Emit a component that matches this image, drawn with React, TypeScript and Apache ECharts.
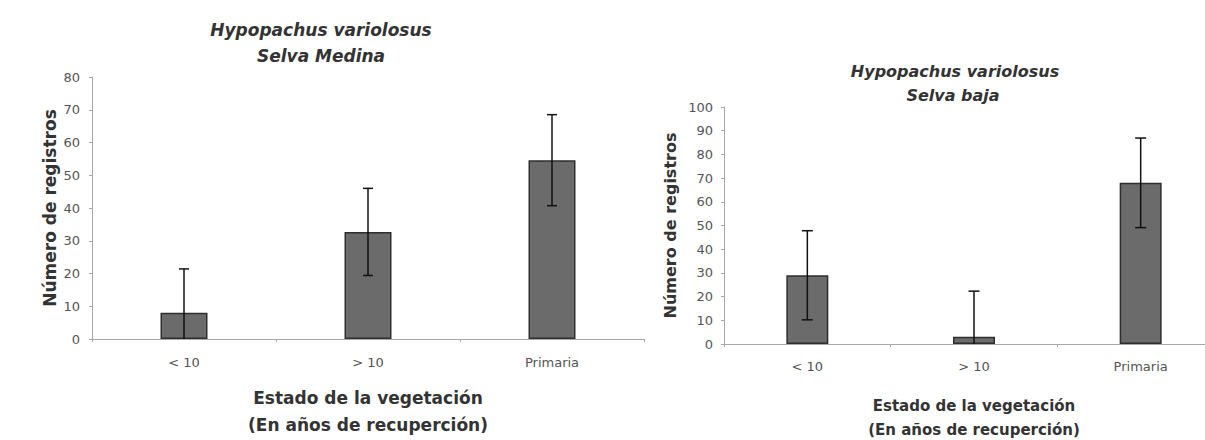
import React, { useEffect, useRef } from "react";
import * as echarts from "echarts";

const categories = ["< 10", "> 10", "Primaria"];

const medinaValues = [8, 32.7, 54.6];
const medinaErrors = [13.4, 13.3, 13.9];

const bajaValues = [29, 3.1, 68];
const bajaErrors = [18.8, 19.2, 18.9];

const titleSpecies = "Hypopachus variolosus";
const titleMedina = "Selva Medina";
const titleBaja = "Selva baja";
const yName = "Número de registros";
const xName = "Estado de la vegetación\n(En años de recuperción)";

const errData = (vals: number[], errs: number[]) =>
  vals.map((v, i) => [i, Math.max(0, v - errs[i]), v + errs[i]]);

const makeErrRender = (cap: number) => (params: any, api: any) => {
  const i = api.value(0);
  const lo = api.value(1);
  const hi = api.value(2);
  const top = api.coord([i, hi]);
  const bot = api.coord([i, lo]);
  const style = { stroke: "#111", lineWidth: 1.5 };
  const children: any[] = [
    { type: "line", shape: { x1: top[0], y1: top[1], x2: bot[0], y2: bot[1] }, style },
    { type: "line", shape: { x1: top[0] - cap / 2, y1: top[1], x2: top[0] + cap / 2, y2: top[1] }, style },
  ];
  if (lo > 0) {
    children.push({
      type: "line",
      shape: { x1: bot[0] - cap / 2, y1: bot[1], x2: bot[0] + cap / 2, y2: bot[1] },
      style,
    });
  }
  return { type: "group", children };
};

const FONT = "DejaVu Sans";
const axisGray = "#a8a8a8";
const labelGray = "#555";
const textDark = "#333";

export default function App() {
  const ref = useRef<HTMLDivElement>(null);
  useEffect(() => {
    if (!ref.current) return;
    const chart = echarts.init(ref.current, undefined, { renderer: "svg" });
    const xAxisBase = (gridIndex: number, nameSize: number, nameGap: number, lineH: number, labelMargin: number) => ({
      type: "category",
      gridIndex,
      data: categories,
      axisLine: { lineStyle: { color: axisGray, width: 1 } },
      axisTick: { show: true, length: 3, lineStyle: { color: axisGray } },
      axisLabel: { color: labelGray, fontSize: 13, fontFamily: FONT, margin: labelMargin },
      name: xName,
      nameLocation: "middle",
      nameGap,
      nameTextStyle: {
        color: textDark,
        fontWeight: "bold",
        fontSize: nameSize,
        fontFamily: FONT,
        lineHeight: lineH,
      },
    });
    const yAxisBase = (gridIndex: number, max: number, nameSize: number, nameGap: number, labelMargin: number) => ({
      type: "value",
      gridIndex,
      min: 0,
      max,
      interval: 10,
      splitLine: { show: false },
      axisLine: { show: true, lineStyle: { color: axisGray, width: 1 } },
      axisTick: { show: true, length: 3, lineStyle: { color: axisGray } },
      axisLabel: { color: labelGray, fontSize: 13, fontFamily: FONT, margin: labelMargin },
      name: yName,
      nameLocation: "middle",
      nameRotate: 90,
      nameGap,
      nameTextStyle: { color: textDark, fontWeight: "bold", fontSize: nameSize, fontFamily: FONT },
    });
    const titleText = (x: number, y: number, text: string, size: number) => ({
      type: "text",
      x,
      y,
      style: {
        text,
        fill: textDark,
        font: `italic bold ${size}px "${FONT}"`,
        textAlign: "center",
        textVerticalAlign: "middle",
      },
    });
    chart.setOption({
      animation: false,
      backgroundColor: "#fff",
      grid: [
        { left: 92, top: 77, width: 552, height: 262, outerBoundsMode: "none", containLabel: false },
        { left: 724, top: 107, width: 500, height: 237, outerBoundsMode: "none", containLabel: false },
      ],
      xAxis: [xAxisBase(0, 17, 45, 27, 17), xAxisBase(1, 15, 50, 24, 16)],
      yAxis: [yAxisBase(0, 80, 17, 34, 12), yAxisBase(1, 100, 16, 46, 11)],
      graphic: [
        titleText(321, 30, titleSpecies, 17),
        titleText(321, 56, titleMedina, 17),
        titleText(955, 71, titleSpecies, 16),
        titleText(953, 95, titleBaja, 16),
      ],
      series: [
        {
          type: "bar",
          xAxisIndex: 0,
          yAxisIndex: 0,
          data: medinaValues,
          barWidth: 47,
          itemStyle: { color: "#6b6b6b", borderColor: "#2e2e2e", borderWidth: 1.5 },
        },
        {
          type: "custom",
          xAxisIndex: 0,
          yAxisIndex: 0,
          data: errData(medinaValues, medinaErrors),
          encode: { x: 0, y: [1, 2] },
          renderItem: makeErrRender(10),
          clip: false,
          z: 5,
        },
        {
          type: "bar",
          xAxisIndex: 1,
          yAxisIndex: 1,
          data: bajaValues,
          barWidth: 42,
          itemStyle: { color: "#6b6b6b", borderColor: "#2e2e2e", borderWidth: 1.5 },
        },
        {
          type: "custom",
          xAxisIndex: 1,
          yAxisIndex: 1,
          data: errData(bajaValues, bajaErrors),
          encode: { x: 0, y: [1, 2] },
          renderItem: makeErrRender(11),
          clip: false,
          z: 5,
        },
      ],
    });
    return () => chart.dispose();
  }, []);
  return (
    <div
      ref={ref}
      style={{ position: "absolute", left: 0, top: 0, width: 1205, height: 440, background: "#fff" }}
    />
  );
}
